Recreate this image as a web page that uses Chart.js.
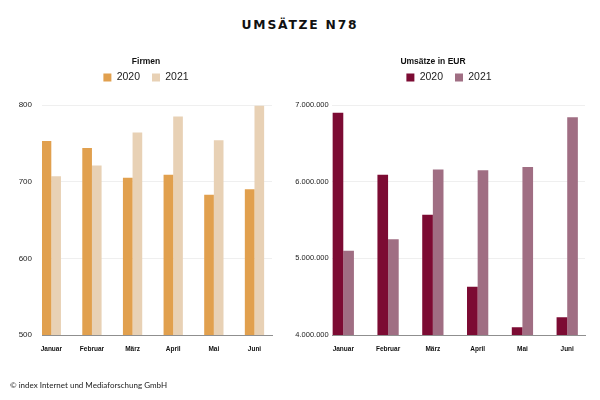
<!DOCTYPE html>
<html>
<head>
<meta charset="utf-8">
<script src="https://cdn.jsdelivr.net/npm/chart.js@4"></script>
<style>
  html, body { margin: 0; padding: 0; background: #fff; }
  #wrap { position: relative; width: 600px; height: 400px; overflow: hidden; }
  #title { position: absolute; left: 0; top: 17px; width: 600px; text-align: center;
           font-family: "DejaVu Sans", sans-serif; font-weight: bold; font-size: 12.3px;
           letter-spacing: 1.8px; color: #111; line-height: 16px; }
  #footer { position: absolute; left: 10px; top: 379px; font-family: Lato, sans-serif;
            font-size: 8px; color: #222; line-height: 12px; }
  canvas { position: absolute; top: 0; }
  #c1 { left: 0; }
  #c2 { left: 286px; }
</style>
</head>
<body>
<div id="wrap">
  <div id="title">UMSÄTZE N78</div>
  <canvas id="c1" width="290" height="400"></canvas>
  <canvas id="c2" width="340" height="400"></canvas>
  <div id="footer">© index Internet und Mediaforschung GmbH</div>
</div>
<script>
const categories = ['Januar', 'Februar', 'März', 'April', 'Mai', 'Juni'];
const seriesNames = ['2020', '2021'];
const firmen2020 = [753, 744, 705, 709, 683, 690];
const firmen2021 = [707, 721, 764, 785, 754, 799];
const umsatz2020 = [6900000, 6090000, 5570000, 4630000, 4100000, 4230000];
const umsatz2021 = [5100000, 5250000, 6160000, 6150000, 6190000, 6840000];
const firmenTicks = [500, 600, 700, 800];
const umsatzTicks = [4000000, 5000000, 6000000, 7000000];

function pts(arr) { return arr.map((v, i) => ({ x: i, y: v })); }
function fmtDE(v) { return String(Math.round(v)).replace(/\B(?=(\d{3})+(?!\d))/g, '.'); }

function makeChart(id, cfg) {
  return new Chart(document.getElementById(id), {
    type: 'bar',
    data: {
      datasets: [
        { label: seriesNames[0], data: pts(cfg.a), backgroundColor: cfg.colors[0], borderWidth: 0,
          categoryPercentage: 0.475, barPercentage: 1 },
        { label: seriesNames[1], data: pts(cfg.b), backgroundColor: cfg.colors[1], borderWidth: 0,
          categoryPercentage: 0.475, barPercentage: 1 }
      ]
    },
    options: {
      responsive: false,
      animation: false,
      devicePixelRatio: 1,
      layout: { padding: { top: 57, bottom: 45, left: cfg.padL, right: cfg.padR } },
      plugins: {
        tooltip: { enabled: false },
        legend: {
          position: 'top',
          align: 'center',
          title: {
            display: true, text: cfg.legendTitle, position: cfg.titlePos, color: '#111',
            font: { family: 'Liberation Sans', size: 8.5, weight: 'bold', lineHeight: 1.2 },
            padding: { top: 0.75, bottom: -7.7 }
          },
          labels: {
            boxWidth: 8, boxHeight: 8, padding: 12, color: '#222',
            font: { family: 'Liberation Sans', size: 10.5 }
          }
        }
      },
      scales: {
        x: {
          type: 'linear', position: 'bottom', offset: false,
          min: cfg.xMin, max: cfg.xMax,
          grid: { display: false, drawTicks: false },
          border: { display: true, color: '#8f8f8f', width: 1 },
          ticks: {
            stepSize: 1, includeBounds: false, autoSkip: false, maxRotation: 0,
            padding: 10.3, color: '#111',
            font: { family: 'Liberation Sans', size: 6.5, weight: 'bold', lineHeight: 1.2 },
            callback: (v) => (Number.isInteger(v) && categories[v] !== undefined) ? categories[v] : ''
          },
          afterFit: (s) => { s.height = 20; }
        },
        xpad: {
          type: 'linear', position: 'top', display: true,
          grid: { display: false, drawTicks: false }, border: { display: false },
          ticks: { display: false },
          afterFit: (s) => { s.height = 12.25; }
        },
        y: {
          type: 'linear', position: 'left',
          min: cfg.ticks[0], max: cfg.ticks[cfg.ticks.length - 1],
          grid: { color: '#efefef', lineWidth: 1, drawTicks: false },
          border: { display: false },
          afterBuildTicks: (s) => { s.ticks = cfg.ticks.map(v => ({ value: v })); },
          ticks: {
            padding: cfg.yPad, color: '#222',
            font: { family: 'Liberation Sans', size: cfg.yFont },
            callback: cfg.fmt
          },
          afterFit: (s) => { s.width = cfg.yWidth; }
        },
        ypad: {
          type: 'linear', position: 'right', display: true,
          grid: { display: false, drawTicks: false }, border: { display: false },
          ticks: { display: false },
          afterFit: (s) => { s.width = cfg.rightW; }
        }
      }
    }
  });
}

makeChart('c1', {
  a: firmen2020, b: firmen2021,
  colors: ['#e1a04e', '#e8d1b5'],
  legendTitle: 'Firmen', titlePos: 'center',
  padL: 10, padR: 8, yWidth: 32, rightW: 10, yPad: 10, yFont: 8,
  xMin: -0.229, xMax: 5.431,
  ticks: firmenTicks,
  fmt: (v) => String(v)
});

makeChart('c2', {
  a: umsatz2020, b: umsatz2021,
  colors: ['#7c0b33', '#a06e83'],
  legendTitle: 'Umsätze in EUR', titlePos: 'start',
  padL: 8, padR: 22, yWidth: 38, rightW: 19, yPad: 3.3, yFont: 7.5,
  xMin: -0.252, xMax: 5.397,
  ticks: umsatzTicks,
  fmt: (v) => fmtDE(v)
});
</script>
</body>
</html>
